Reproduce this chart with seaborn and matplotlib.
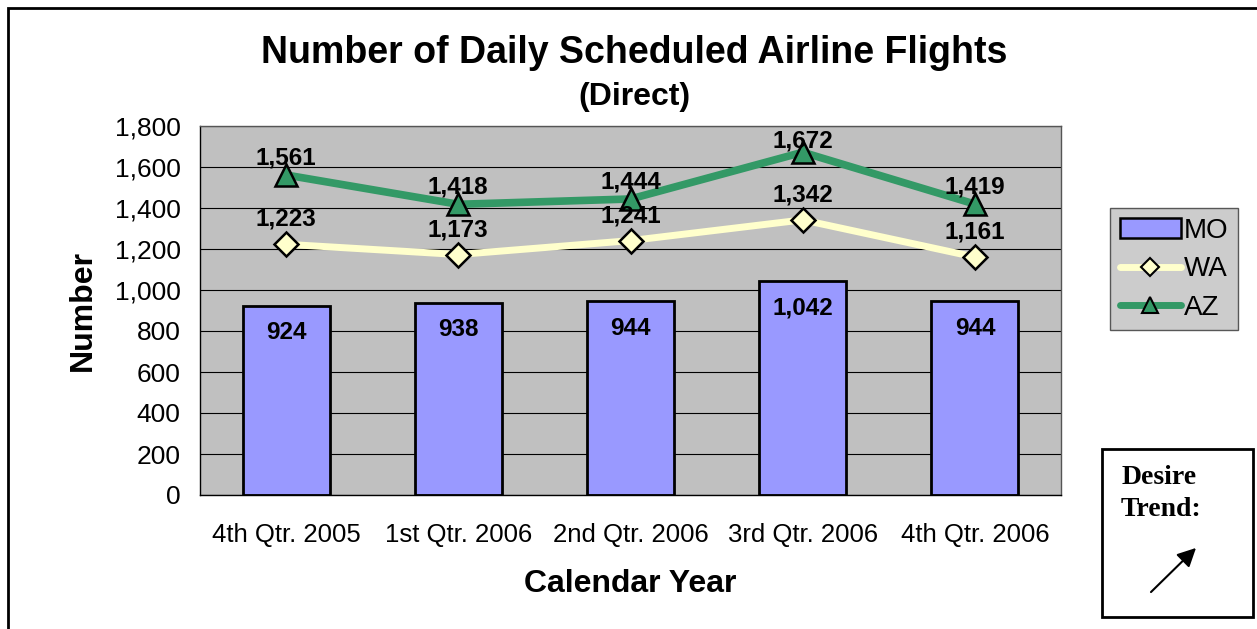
import numpy as np
import pandas as pd
import matplotlib
matplotlib.use("Agg")
import matplotlib.pyplot as plt
import seaborn as sns
from matplotlib.lines import Line2D
from matplotlib.patches import Patch, Rectangle, FancyArrowPatch

quarters = ['4th Qtr. 2005', '1st Qtr. 2006', '2nd Qtr. 2006', '3rd Qtr. 2006', '4th Qtr. 2006']
mo = [924, 938, 944, 1042, 944]
wa = [1223, 1173, 1241, 1342, 1161]
az = [1561, 1418, 1444, 1672, 1419]
yticks = [0, 200, 400, 600, 800, 1000, 1200, 1400, 1600, 1800]

sns.set_theme(style='white')
plt.rcParams['font.family'] = ['Liberation Sans', 'DejaVu Sans']
plt.rcParams.update({'text.color': 'black', 'axes.labelcolor': 'black',
                     'xtick.color': 'black', 'ytick.color': 'black'})

W, H = 1257, 629
fig = plt.figure(figsize=(W / 100, H / 100), dpi=100)
ax = fig.add_axes([200 / W, 1 - 495 / H, 861 / W, 369 / H])
ax.set_facecolor('#C0C0C0')

df = pd.DataFrame({'quarter': quarters, 'MO': mo, 'WA': wa, 'AZ': az})
x = np.arange(len(quarters))

sns.barplot(data=df, x='quarter', y='MO', color='#9999FF', saturation=1,
            width=0.505, edgecolor='black', linewidth=2, ax=ax, zorder=2)
ax.plot(x, wa, color='#FFFFCC', lw=5, marker='D', ms=12, mfc='#FFFFCC',
        mec='black', mew=1.8, zorder=3)
ax.plot(x, az, color='#339966', lw=5.5, marker='^', ms=16, mfc='#339966',
        mec='black', mew=1.8, zorder=4)

for i in range(len(quarters)):
    ax.text(x[i], mo[i] - 130, f'{mo[i]:,}', ha='center', va='center',
            fontsize=17.5, fontweight='bold', zorder=5)
    ax.text(x[i], wa[i] + 122, f'{wa[i]:,}', ha='center', va='center',
            fontsize=17.5, fontweight='bold', zorder=5)
    ax.text(x[i], min(az[i] + 85, 1727), f'{az[i]:,}', ha='center', va='center',
            fontsize=17.5, fontweight='bold', zorder=5)

ax.set_xlim(-0.5, len(quarters) - 0.5)
ax.set_ylim(0, 1800)
ax.set_yticks(yticks)
ax.set_yticklabels([f'{v:,}' for v in yticks], fontsize=19)
ax.tick_params(axis='x', labelsize=18.5, pad=14)
ax.tick_params(axis='y', pad=8)
ax.yaxis.grid(True, color='black', lw=0.8)
ax.set_axisbelow(True)
for s in ax.spines.values():
    s.set_color('#555555')
    s.set_linewidth(1)
ax.spines['left'].set_color('black')
ax.spines['bottom'].set_color('black')

ax.set_xlabel('Calendar Year', fontsize=23, fontweight='bold', labelpad=16)
ax.set_ylabel('Number', fontsize=23, fontweight='bold', labelpad=12)

fig.text(634 / W, 1 - 53 / H, 'Number of Daily Scheduled Airline Flights',
         ha='center', va='center', fontsize=27, fontweight='bold')
fig.text(634 / W, 1 - 97 / H, '(Direct)', ha='center', va='center',
         fontsize=23, fontweight='bold')

handles = [Patch(facecolor='#9999FF', edgecolor='black', lw=1.8),
           Line2D([], [], color='#FFFFCC', lw=5, marker='D', ms=9,
                  mfc='#FFFFCC', mec='black', mew=1.5),
           Line2D([], [], color='#339966', lw=5, marker='^', ms=12,
                  mfc='#339966', mec='black', mew=1.5)]
leg = fig.legend(handles, ['MO', 'WA', 'AZ'], loc='upper left',
                 bbox_to_anchor=(1110 / W, 1 - 208 / H), fontsize=20,
                 frameon=True, fancybox=False, handlelength=2.2,
                 handletextpad=0.1, labelspacing=0.45, borderpad=0.35,
                 borderaxespad=0)
leg.get_frame().set_facecolor('#C0C0C0')
leg.get_frame().set_edgecolor('#333333')
leg.get_frame().set_linewidth(1)

# desire trend box
fig.patches.append(Rectangle((1102 / W, 1 - 617 / H), 151 / W, 168 / H,
                             transform=fig.transFigure, fill=False,
                             edgecolor='black', lw=2))
fig.text(1159 / W, 1 - 478 / H, 'Desire', ha='center', va='center',
         fontsize=20, fontweight='bold', family=['Liberation Serif'])
fig.text(1161 / W, 1 - 509 / H, 'Trend:', ha='center', va='center',
         fontsize=20, fontweight='bold', family=['Liberation Serif'])
fig.add_artist(FancyArrowPatch(
    (1149 / W, 1 - 594 / H), (1198 / W, 1 - 546 / H),
    transform=fig.transFigure, arrowstyle='-|>', mutation_scale=28,
    color='black', lw=1.5))

# outer frame
fig.patches.append(Rectangle((8 / W, -0.05), 1.1, 1 - 8 / H + 0.05,
                             transform=fig.transFigure, fill=False,
                             edgecolor='black', lw=2))

fig.savefig('out.png', dpi=100)
